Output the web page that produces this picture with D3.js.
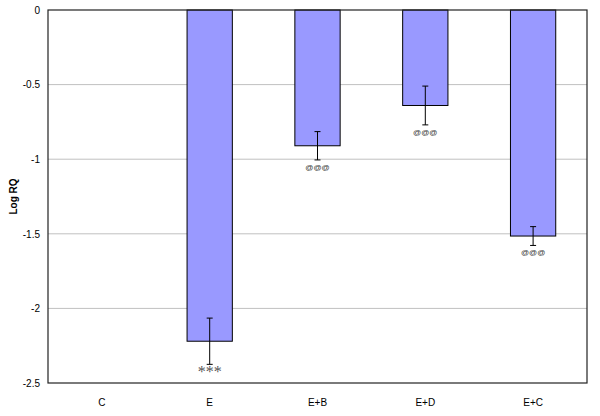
<meta charset="utf-8">
<svg id="svg" width="600" height="416"></svg>
<script src="https://cdn.jsdelivr.net/npm/d3@7"></script>
<script>
    // chart data
    var groups = ["C", "E", "E+B", "E+D", "E+C"];
    var logRQ = [0, -2.22, -0.91, -0.64, -1.515];
    var errors = [0, 0.155, 0.095, 0.13, 0.063];
    var marks = ["", "***", "@@@", "@@@", "@@@"];
    var yTicks = [0, -0.5, -1, -1.5, -2, -2.5];

    var margin = { top: 10, right: 13, bottom: 33, left: 48 };
    var width = 600 - margin.left - margin.right;
    var height = 416 - margin.top - margin.bottom;

    var svg = d3.select("#svg");
    var g = svg.append("g").attr("transform", "translate(" + margin.left + "," + margin.top + ")");

    var x = d3.scaleBand().domain(groups).range([0, width]).paddingInner(0.58).paddingOuter(0.29);
    var y = d3.scaleLinear().domain([0, -2.5]).range([0, height]);

    // gridlines
    g.selectAll(".grid")
        .data(yTicks.slice(1, -1))
        .enter()
        .append("line")
        .attr("x1", 0).attr("x2", width)
        .attr("y1", function (d) { return y(d); })
        .attr("y2", function (d) { return y(d); })
        .attr("stroke", "#c0c0c0")
        .attr("stroke-width", 1);

    var data = groups.map(function (c, i) {
        return { cat: c, v: logRQ[i], e: errors[i], m: marks[i] };
    });

    // bars (skip the control, which is zero)
    g.selectAll(".bar")
        .data(data.filter(function (d) { return d.v !== 0; }))
        .enter()
        .append("rect")
        .attr("x", function (d) { return x(d.cat); })
        .attr("y", y(0))
        .attr("width", x.bandwidth())
        .attr("height", function (d) { return y(d.v) - y(0); })
        .attr("fill", "#9999ff")
        .attr("stroke", "#000")
        .attr("stroke-width", 1);

    // error bars
    var eb = g.selectAll(".err")
        .data(data.filter(function (d) { return d.e > 0; }))
        .enter()
        .append("g")
        .attr("stroke", "#000")
        .attr("stroke-width", 1);
    eb.append("line")
        .attr("x1", function (d) { return x(d.cat) + x.bandwidth() / 2; })
        .attr("x2", function (d) { return x(d.cat) + x.bandwidth() / 2; })
        .attr("y1", function (d) { return y(d.v + d.e); })
        .attr("y2", function (d) { return y(d.v - d.e); });
    [1, -1].forEach(function (s) {
        eb.append("line")
            .attr("x1", function (d) { return x(d.cat) + x.bandwidth() / 2 - 3; })
            .attr("x2", function (d) { return x(d.cat) + x.bandwidth() / 2 + 3; })
            .attr("y1", function (d) { return y(d.v + s * d.e); })
            .attr("y2", function (d) { return y(d.v + s * d.e); });
    });

    // significance marks
    g.selectAll(".mark")
        .data(data.filter(function (d) { return d.m; }))
        .enter()
        .append("text")
        .attr("x", function (d) { return x(d.cat) + x.bandwidth() / 2; })
        .attr("y", function (d) { return y(d.v - d.e) + (d.m === "***" ? 13 : 10); })
        .attr("text-anchor", "middle")
        .attr("fill", function (d) { return d.m === "***" ? "#555" : "#333"; })
        .style("font-family", function (d) { return d.m === "***" ? "'Liberation Serif', serif" : "Arial, 'Liberation Sans', sans-serif"; })
        .style("font-size", function (d) { return d.m === "***" ? "16px" : "8px"; })
        .text(function (d) { return d.m; });

    // frame
    g.append("rect")
        .attr("width", width).attr("height", height)
        .attr("fill", "none")
        .attr("stroke", "#222")
        .attr("stroke-width", 1.2);

    // axes
    var yAxis = g.append("g")
        .call(d3.axisLeft(y).tickValues(yTicks).tickSize(0).tickPadding(8)
            .tickFormat(function (d) { return String(d); }));
    yAxis.select(".domain").remove();
    yAxis.selectAll("text").style("font-family", "Arial, 'Liberation Sans', sans-serif").style("font-size", "10px").attr("fill", "#000");

    var xAxis = g.append("g")
        .attr("transform", "translate(0," + height + ")")
        .call(d3.axisBottom(x).tickSize(0).tickPadding(16));
    xAxis.select(".domain").remove();
    xAxis.selectAll("text").style("font-family", "Arial, 'Liberation Sans', sans-serif").style("font-size", "10px").attr("fill", "#000");

    svg.append("text")
        .attr("transform", "translate(17," + (margin.top + height / 2) + ") rotate(-90)")
        .attr("text-anchor", "middle")
        .style("font-family", "Arial, 'Liberation Sans', sans-serif")
        .style("font-size", "10px")
        .style("font-weight", "bold")
        .text("Log RQ");
</script>
<style>
    html,
    body {
        margin: 0;
        padding: 0;
        background: #fff;
    }
</style>
